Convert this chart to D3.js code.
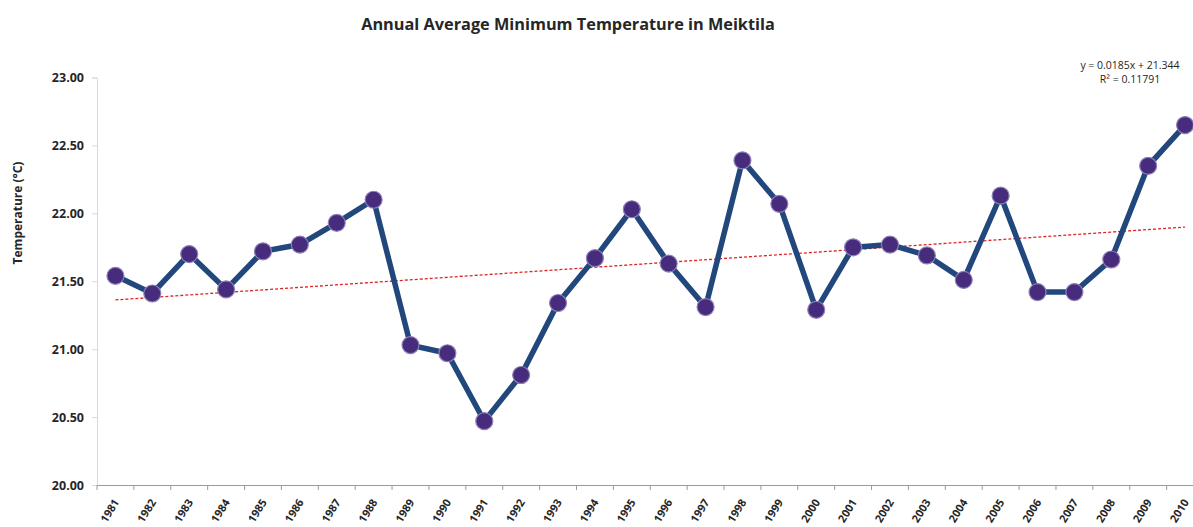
<!DOCTYPE html>
<html lang="en">
<head>
<meta charset="UTF-8">
<title>Annual Average Minimum Temperature in Meiktila</title>
<script src="https://cdn.jsdelivr.net/npm/d3@7"></script>
<style>
  body { margin: 0; background: #fff; }
  text { font-family: "Open Sans", "DejaVu Sans", sans-serif; }
</style>
</head>
<body>
<svg width="1193" height="527"></svg>
<script>
// data
let years = [1981,1982,1983,1984,1985,1986,1987,1988,1989,1990,
             1991,1992,1993,1994,1995,1996,1997,1998,1999,2000,
             2001,2002,2003,2004,2005,2006,2007,2008,2009,2010];
let temps = [21.54,21.41,21.70,21.44,21.72,21.77,21.93,22.10,21.03,20.97,
             20.47,20.81,21.34,21.67,22.03,21.63,21.31,22.39,22.07,21.29,
             21.75,21.77,21.69,21.51,22.13,21.42,21.42,21.66,22.35,22.65];
let yTicks = [20.0,20.5,21.0,21.5,22.0,22.5,23.0];
// linear trend shown on the chart
let trendSlope = 0.0185, trendIntercept = 21.344;
let trendText = ["y = 0.0185x + 21.344", "R\u00b2 = 0.11791"];

let data = years.map(function (y, i) { return {year: y, temp: temps[i], idx: i + 1}; });

let svg = d3.select('svg');

let scaleX = d3.scaleBand().domain(years).range([97, 1203.5]);
let scaleY = d3.scaleLinear().domain([20, 23]).range([485, 77.5]);
let cx = function (yr) { return scaleX(yr) + scaleX.bandwidth() / 2; };

// title
svg.append('text')
    .attr('x', 568).attr('y', 30)
    .attr('text-anchor', 'middle')
    .style('font-size', '16.3px').style('font-weight', 'bold').style('fill', '#262626')
    .text('Annual Average Minimum Temperature in Meiktila');

// y axis
let yAxis = svg.append('g')
    .attr('transform', 'translate(97,0)')
    .call(d3.axisLeft(scaleY).tickValues(yTicks).tickFormat(d3.format('.2f')).tickSize(5).tickPadding(8));
yAxis.select('.domain').style('stroke', '#d5d9e2');
yAxis.selectAll('.tick line').style('stroke', '#d5d9e2');
yAxis.selectAll('.tick text')
    .style('font-size', '12.5px').style('font-weight', 'bold').style('fill', '#262626');

svg.append('text')
    .attr('transform', 'translate(22,213) rotate(-90)')
    .attr('text-anchor', 'middle')
    .style('font-size', '12px').style('font-weight', 'bold').style('fill', '#262626')
    .text('Temperature (\u00b0C)');

// x axis
let xAxis = svg.append('g')
    .attr('transform', 'translate(0,485)')
    .call(d3.axisBottom(scaleX).tickSize(0).tickFormat(''));
xAxis.select('.domain').style('stroke', '#9a9a9a');
xAxis.selectAll('.xtick')
    .data(years.concat([null]))
    .enter().append('line')
    .attr('x1', function (d, i) { return i < years.length ? scaleX(d) : scaleX.range()[1]; })
    .attr('x2', function (d, i) { return i < years.length ? scaleX(d) : scaleX.range()[1]; })
    .attr('y1', 0).attr('y2', 5)
    .style('stroke', '#9a9a9a');
xAxis.selectAll('.xlab')
    .data(years)
    .enter().append('text')
    .attr('transform', function (d) { return 'translate(' + (cx(d) + 1) + ',15) rotate(-58)'; })
    .attr('text-anchor', 'end')
    .attr('dy', '0.35em')
    .style('font-size', '11px').style('font-weight', 'bold').style('fill', '#262626')
    .text(function (d) { return d; });

// trend line
let trendLine = d3.line()
    .x(function (d) { return cx(d.year); })
    .y(function (d) { return scaleY(trendSlope * d.idx + trendIntercept); });
svg.append('path')
    .data([[data[0], data[data.length - 1]]])
    .attr('d', trendLine)
    .style('fill', 'none')
    .style('stroke', '#e02424')
    .style('stroke-width', '1.3px')
    .style('stroke-dasharray', '3,2');

// series line
let l1 = d3.line()
    .x(function (d) { return cx(d.year); })
    .y(function (d) { return scaleY(d.temp); });
svg.append('path')
    .data([data])
    .attr('d', l1)
    .style('fill', 'none')
    .style('stroke', '#21477d')
    .style('stroke-width', '5.5px')
    .style('stroke-linejoin', 'miter');

// markers
svg.selectAll('.dot')
    .data(data)
    .enter().append('circle')
    .attr('cx', function (d) { return cx(d.year); })
    .attr('cy', function (d) { return scaleY(d.temp); })
    .attr('r', 8.5)
    .style('fill', '#472b7d')
    .style('stroke', '#8f80b6')
    .style('stroke-width', '1.2px');

// equation
svg.selectAll('.eq')
    .data(trendText)
    .enter().append('text')
    .attr('x', 1130)
    .attr('y', function (d, i) { return 69 + i * 14; })
    .attr('text-anchor', 'middle')
    .style('font-size', '10.5px').style('fill', '#262626')
    .text(function (d) { return d; });
</script>
</body>
</html>
